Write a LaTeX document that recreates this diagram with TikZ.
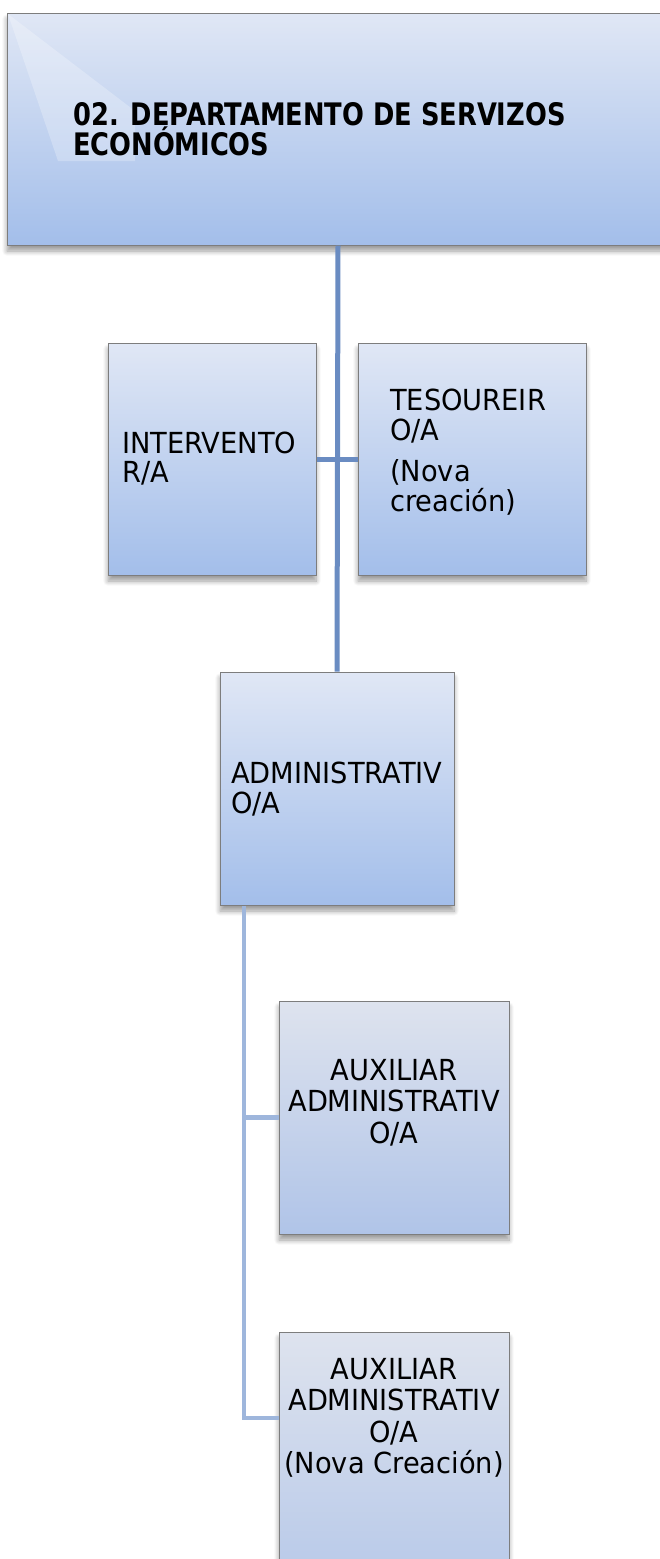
\documentclass[tikz,border=0pt]{standalone}
\usepackage{fontspec}
\setmainfont{DejaVu Sans}[FakeStretch=0.94]
\newfontfamily\titlefont{DejaVu Sans}[FakeStretch=0.83]
\usetikzlibrary{shadows.blur}
\definecolor{boxtop}{RGB}{224,231,245}
\definecolor{boxbot}{RGB}{163,190,234}
\definecolor{auxtop}{RGB}{222,227,238}
\definecolor{auxbot}{RGB}{176,196,232}
\definecolor{boxline}{RGB}{125,125,125}
\definecolor{trunkA}{RGB}{106,140,194}
\definecolor{trunkB}{RGB}{158,182,220}
\tikzset{
  box/.style={rectangle, draw=boxline, line width=1pt, top color=boxtop, bottom color=boxbot,
    blur shadow={shadow xshift=0pt, shadow yshift=-6pt, shadow blur steps=8, shadow blur radius=5pt, shadow opacity=40},
    inner sep=0pt},
  auxbox/.style={box, top color=auxtop, bottom color=auxbot},
  conA/.style={draw=trunkA, line width=5pt},
  conB/.style={draw=trunkB, line width=4.5pt},
  lbl/.style={font=\fontsize{29}{30}\selectfont, align=left, inner sep=0pt, anchor=north west},
  clbl/.style={lbl, align=center, anchor=north, font=\fontsize{29}{31.5}\selectfont}
}
\begin{document}
\begin{tikzpicture}[x=1pt,y=-1pt]
\useasboundingbox (0,0) rectangle (660,1559);
\clip (0,0) rectangle (660,1559);
\coordinate (a2in) at (279,1418);
% boxes
\node[box, minimum width=662pt, minimum height=232pt] (top) at (338,129) {};
\fill[white, opacity=0.25] (8,14) -- (135,111) -- (135,161) -- (58,161) -- cycle;
\node[box, minimum width=208pt, minimum height=232pt] (interv) at (212,459) {};
\node[box, minimum width=228pt, minimum height=232pt] (tesour) at (472,459) {};
\node[box, minimum width=234pt, minimum height=233pt] (admin) at (337,788.5) {};
\node[auxbox, minimum width=230pt, minimum height=233pt] (aux1) at (394,1117.5) {};
\node[auxbox, minimum width=230pt, minimum height=300pt] (aux2) at (394,1482) {};
% texts
\node[lbl, font=\fontsize{31}{27.5}\selectfont\titlefont\bfseries] (toptext) at (73,102)
  {02. DEPARTAMENTO DE SERVIZOS\\ECONÓMICOS};
\node[lbl, font=\fontsize{29}{29}\selectfont] (intervt) at (122,432) {INTERVENTO\\R/A};
\node[lbl] (tesourt) at (390,389) {TESOUREIR\\O/A\\[11pt](Nova\\creación)};
\node[lbl] (admint) at (231,762) {ADMINISTRATIV\\O/A};
\node[clbl] (aux1t) at (394,1059) {AUXILIAR\\ADMINISTRATIV\\O/A};
\node[clbl] (aux2t) at (394,1358) {AUXILIAR\\ADMINISTRATIV\\O/A\\(Nova Creación)};
% connectors
\draw[conA] (top.south) -- (admin.north);
\draw[conA] (interv.east) -- (tesour.west);
\draw[conB] ([xshift=-93pt]admin.south) |- (a2in);
\draw[conB] ([xshift=-93pt]admin.south |- aux1.west) -- (aux1.west);
\end{tikzpicture}
\end{document}
